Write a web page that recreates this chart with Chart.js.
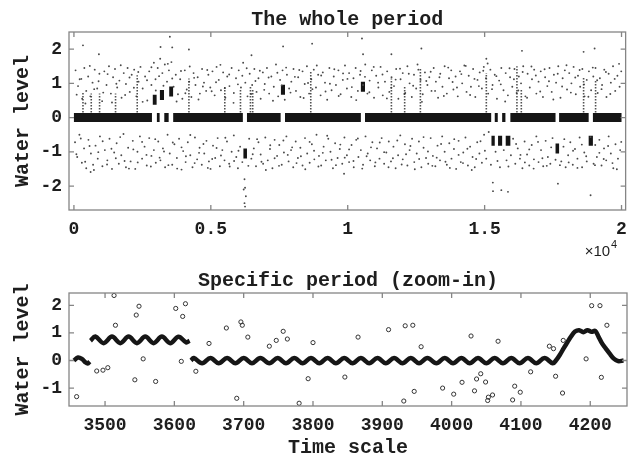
<!DOCTYPE html>
<html>
<head>
<meta charset="utf-8">
<title>Water level</title>
<script src="https://cdn.jsdelivr.net/npm/chart.js@4.4.0/dist/chart.umd.min.js"></script>
<style>
    html, body { margin: 0; padding: 0; background: #fff; overflow: hidden; }
    canvas { position: absolute; left: 0; }
    #whole { top: 0; }
    #zoom { top: 265px; }
</style>
</head>
<body>
<canvas id="whole" width="636" height="265"></canvas>
<canvas id="zoom" width="636" height="195"></canvas>
<script>
// ---- top panel: the whole period ----
const wholeXTicks = [0, 5000, 10000, 15000, 20000];
const wholeXLabels = ['0', '0.5', '1', '1.5', '2'];
const wholeYTicks = [-2, -1, 0, 1, 2];

// dense band around 0, [start, end]
const bandSegments = [[0,2850],[3030,3130],[3300,3460],[3625,6170],[6320,7550],[7710,10480],[10630,15240],
    [15370,15480],[15640,15760],[15940,17590],[17720,18800],[18955,20000]];
// shifted blocks, [start, end, level]
const shiftBlocks = [[2880,3020,0.52],[3140,3290,0.66],[3480,3622,0.76],[6190,6320,-1.05],[7560,7710,0.81],
    [10480,10630,0.9],[15250,15370,-0.68],[15490,15640,-0.68],[15770,15940,-0.68],[17590,17720,-0.9],[18800,18955,-0.68]];
// vertical streaks, [x, top]
const spikes = [[330,0.75],[633,0.7],[937,0.7],[1520,0.7],[2312,1.24],[4200,1.14],[5510,0.9],[6083,0.85],[6447,0.9],
    [6530,0.85],[8650,1.33],[11595,1.14],[12080,0.94],[12654,1.43],[15062,1.3],[16180,1.5],[16340,0.85],[18615,1.19],[19053,1.1]];

const upperDots = [
    [60,1.38],[150,0.92],[210,1.12],[300,0.55],[380,1.45],[450,0.78],[520,1.2],[600,0.62],[680,1.02],[760,1.4],[850,0.85],[930,1.28],
    [1030,0.48],[1110,1.35],[1190,0.95],[1280,1.5],[1350,0.7],[1430,1.18],[1500,1.42],[1580,0.88],[1660,1.08],[1740,0.58],[1820,1.3],[1900,0.98],[1960,1.45],
    [2040,0.75],[2110,1.25],[2200,1.4],[2280,0.62],[2360,1.05],[2430,1.48],[2510,0.85],[2600,1.2],[2680,0.5],[2750,1.35],[2830,0.95],[2920,1.6],[2980,1.12],
    [3060,1.45],[3150,1.72],[3230,1.3],[3320,1.55],[3400,1.05],[3470,1.38],[3560,1.62],[3640,0.9],[3720,1.25],[3800,0.68],[3880,1.12],[3960,0.55],
    [4050,1.38],[4120,0.82],[4210,1.05],[4290,0.6],[4370,1.3],[4440,0.95],[4520,1.18],[4600,0.7],[4680,1.42],[4750,1.02],[4830,0.78],[4910,1.25],[4980,0.88],
    [5060,1.35],[5140,0.65],[5210,1.48],[5290,1.1],[5370,0.8],[5450,1.32],[5530,0.58],[5600,1.2],[5680,0.92],[5760,1.45],[5840,0.72],[5920,1.15],
    [6020,1.38],[6100,0.88],[6180,1.6],[6260,1.02],[6340,0.62],[6420,1.28],[6510,0.95],[6590,1.42],[6670,0.75],[6740,1.15],[6820,0.55],[6900,1.32],[6970,0.98],
    [7050,1.45],[7130,0.7],[7210,1.2],[7300,0.9],[7380,1.55],[7460,0.62],[7530,1.1],[7620,1.38],[7700,0.52],[7780,1.25],[7860,0.85],[7940,1.05],
    [8020,1.42],[8110,0.78],[8190,1.18],[8270,0.6],[8350,1.35],[8430,0.98],[8510,1.5],[8590,0.7],[8670,1.12],[8760,1.4],[8840,0.88],[8920,1.25],
    [9010,0.65],[9090,1.32],[9170,1.02],[9250,0.52],[9330,1.45],[9410,0.8],[9490,1.2],[9570,0.95],[9660,1.38],[9740,0.68],[9820,1.1],[9900,1.52],[9970,0.85],
    [10050,1.3],[10130,0.6],[10210,1.15],[10290,1.45],[10370,0.78],[10450,1.25],[10560,0.95],[10640,1.55],[10720,0.7],[10800,1.08],[10880,1.38],[10960,0.58],
    [11040,1.22],[11120,0.88],[11200,1.48],[11280,0.65],[11360,1.05],[11440,1.35],[11520,0.75],[11600,1.18],[11690,0.92],[11770,1.42],[11850,0.55],[11930,1.12],
    [12010,1.3],[12100,0.72],[12180,1.5],[12260,1.0],[12340,0.6],[12420,1.25],[12500,0.85],[12580,1.4],[12660,1.1],[12740,0.68],[12820,1.32],[12910,0.95],[12980,1.18],
    [13060,0.78],[13140,1.45],[13220,1.05],[13300,0.58],[13380,1.28],[13460,0.9],[13540,1.5],[13620,0.7],[13700,1.15],[13780,1.38],[13860,0.82],[13940,1.2],
    [14020,0.62],[14100,1.35],[14180,1.0],[14260,1.52],[14340,0.75],[14420,1.22],[14500,0.9],[14580,1.42],[14660,0.6],[14740,1.1],[14820,1.32],[14900,0.85],[14970,1.48],
    [15050,1.15],[15130,0.7],[15210,1.4],[15290,0.95],[15370,1.25],[15450,0.55],[15530,1.08],[15610,1.45],[15690,0.8],[15770,1.3],[15850,0.65],[15930,1.18],
    [16010,0.9],[16090,1.42],[16170,0.72],[16250,1.2],[16330,1.0],[16410,1.5],[16490,0.62],[16570,1.28],[16650,0.88],[16730,1.12],[16810,1.4],[16890,0.7],[16970,1.05],
    [17050,1.35],[17130,0.6],[17210,1.18],[17290,0.92],[17370,1.45],[17450,0.75],[17530,1.25],[17610,1.02],[17690,1.5],[17770,0.58],[17850,1.15],[17930,1.38],
    [18010,0.82],[18090,1.3],[18170,1.0],[18250,1.48],[18330,0.68],[18410,1.22],[18490,0.9],[18570,1.42],[18650,0.62],[18730,1.1],[18810,1.35],[18890,0.8],[18970,1.2],
    [19050,1.45],[19130,0.72],[19210,1.15],[19290,0.95],[19370,1.4],[19450,0.6],[19530,1.28],[19610,1.02],[19690,1.5],[19770,0.78],[19850,1.22],[19930,0.9],[19990,1.35]
];

const upperDotsExtra = [
    [100,0.67],[270,1.13],[420,0.41],[580,1.51],[740,0.83],[900,1.06],[1070,0.73],[1230,1.27],[1390,0.44],[1550,0.99],[1710,1.53],[1870,0.66],
    [2030,1.17],[2190,0.87],[2350,1.33],[2510,0.46],[2670,1.09],[2830,1.47],[2990,0.79],[3110,1.21],[3270,0.93],[3430,1.57],[3590,1.14],[3750,0.47],
    [3910,1.36],[4070,0.71],[4230,1.49],[4390,1.16],[4550,0.53],[4710,0.91],[4870,1.39],[5030,0.77],[5190,1.03],[5350,1.54],[5510,0.86],[5670,1.26],
    [5830,0.43],[5990,0.97],[6150,1.22],[6310,1.44],[6470,0.69],[6630,1.07],[6790,1.37],[6950,0.81],[7110,1.17],[7270,0.49],[7430,1.31],[7590,0.94],
    [7750,1.46],[7910,0.73],[8070,1.19],[8230,1.39],[8390,0.57],[8550,1.01],[8710,0.83],[8870,1.52],[9030,1.23],[9190,0.76],[9350,0.99],[9510,1.41],
    [9670,0.63],[9830,1.29],[9990,1.13],[10150,0.89],[10310,0.51],[10470,1.36],[10630,1.19],[10790,0.74],[10950,1.48],[11110,1.02],[11270,1.26],[11430,0.56],
    [11590,0.87],[11750,1.11],[11910,1.43],[12070,0.69],[12230,1.28],[12390,0.93],[12550,1.55],[12710,0.46],[12870,1.07],[13030,1.34],[13190,0.78],[13350,1.18],
    [13510,0.63],[13670,1.46],[13830,1.04],[13990,0.88],[14150,1.27],[14310,1.51],[14470,0.66],[14630,1.13],[14790,0.92],[14950,1.37],[15110,1.58],[15270,0.83],
    [15430,1.21],[15590,0.97],[15750,0.47],[15910,1.44],[16070,1.12],[16230,0.79],[16390,1.33],[16550,0.58],[16710,1.49],[16870,1.23],[17030,0.76],[17190,1.41],
    [17350,1.06],[17510,0.53],[17670,1.28],[17830,0.91],[17990,1.53],[18150,0.73],[18310,1.17],[18470,1.39],[18630,0.97],[18790,0.61],[18950,1.46],[19110,1.09],
    [19270,0.83],[19430,1.33],[19590,0.69],[19750,1.13],[19910,1.57]
];

const lowerDots = [
    [40,-0.72],[120,-1.15],[200,-0.5],[290,-1.32],[370,-0.9],[450,-1.48],[530,-0.65],[620,-1.05],[700,-1.38],[790,-0.82],[870,-1.2],[950,-0.55],
    [1040,-1.42],[1130,-0.95],[1220,-1.25],[1300,-0.62],[1390,-1.5],[1470,-1.02],[1560,-0.75],[1640,-1.35],[1730,-1.1],[1810,-0.48],[1900,-1.45],[1980,-0.88],
    [2070,-1.28],[2150,-0.68],[2240,-1.5],[2320,-1.0],[2410,-0.55],[2490,-1.2],[2580,-0.85],[2660,-1.4],[2750,-0.6],[2830,-1.12],[2920,-0.95],[2990,-1.32],
    [3080,-0.7],[3160,-1.25],[3250,-0.9],[3330,-1.45],[3420,-0.5],[3500,-1.05],[3590,-1.38],[3670,-0.78],[3760,-1.18],[3840,-0.62],[3930,-1.52],[3990,-0.98],
    [4080,-1.3],[4160,-0.72],[4250,-1.1],[4330,-1.45],[4420,-0.58],[4500,-1.22],[4590,-0.88],[4670,-1.38],[4760,-1.05],[4840,-0.68],[4930,-1.28],[4990,-1.5],
    [5080,-0.82],[5160,-1.18],[5250,-0.6],[5330,-1.42],[5420,-0.95],[5500,-1.25],[5590,-0.7],[5670,-1.35],[5760,-1.0],[5840,-0.52],[5930,-1.15],[5990,-1.48],
    [6070,-0.85],[6150,-1.3],[6400,-0.62],[6480,-1.2],[6570,-0.9],[6650,-1.42],[6740,-0.72],[6820,-1.08],[6910,-1.35],[6990,-0.58],
    [7080,-1.25],[7160,-0.92],[7250,-1.48],[7330,-0.65],[7420,-1.12],[7500,-0.8],[7590,-1.38],[7670,-1.02],[7760,-0.55],[7840,-1.28],[7930,-0.95],
    [8010,-1.45],[8100,-0.7],[8180,-1.18],[8270,-0.88],[8350,-1.4],[8440,-0.6],[8520,-1.05],[8610,-1.32],[8690,-0.78],[8780,-1.22],[8860,-0.5],[8950,-1.12],
    [9030,-1.4],[9120,-0.85],[9200,-1.25],[9290,-0.62],[9370,-1.0],[9460,-1.48],[9540,-0.75],[9630,-1.18],[9710,-0.92],[9800,-1.35],[9880,-0.58],[9970,-1.1],
    [10050,-1.3],[10140,-0.8],[10220,-1.45],[10310,-0.65],[10390,-1.15],[10480,-0.95],[10560,-1.38],[10650,-0.55],[10730,-1.05],[10820,-1.25],[10900,-0.72],[10990,-1.42],
    [11070,-0.9],[11160,-1.2],[11240,-0.6],[11330,-1.35],[11410,-1.02],[11500,-0.7],[11580,-1.28],[11670,-0.85],[11750,-1.48],[11840,-1.1],[11920,-0.52],
    [12010,-1.22],[12090,-0.78],[12180,-1.4],[12260,-0.95],[12350,-0.62],[12430,-1.3],[12520,-1.05],[12600,-0.7],[12690,-1.45],[12770,-0.88],[12860,-1.18],[12940,-1.35],
    [13030,-0.6],[13110,-1.12],[13200,-1.42],[13280,-0.82],[13370,-1.25],[13450,-0.55],[13540,-1.0],[13620,-1.38],[13710,-0.75],[13790,-1.2],[13880,-0.92],[13960,-1.5],
    [14050,-0.68],[14130,-1.3],[14220,-1.02],[14300,-0.58],[14390,-1.4],[14470,-0.85],[14560,-1.15],[14640,-1.45],[14730,-0.72],[14810,-1.05],[14900,-1.32],[14980,-0.5],
    [15060,-1.2],[15150,-0.42],[15230,-1.38],[15400,-1.0],[15560,-1.45],[15700,-0.95],[15800,-1.25],[15960,-1.1],
    [16040,-0.62],[16120,-1.35],[16210,-0.9],[16290,-1.2],[16380,-1.48],[16460,-0.7],[16550,-1.08],[16630,-1.4],[16720,-0.8],[16800,-1.22],[16890,-0.55],[16970,-1.3],
    [17060,-0.95],[17140,-1.42],[17230,-0.68],[17310,-1.15],[17400,-1.35],[17480,-0.6],[17800,-1.28],[17880,-0.85],[17960,-1.45],
    [18050,-1.1],[18130,-0.72],[18220,-1.38],[18300,-0.92],[18390,-1.2],[18470,-0.58],[18560,-1.45],[18640,-1.02],[18730,-1.28],[18980,-1.35],[19040,-0.8],
    [19100,-1.15],[19190,-0.65],[19270,-1.4],[19360,-0.9],[19440,-1.25],[19530,-0.55],[19610,-1.05],[19700,-1.48],[19780,-0.78],[19870,-1.2],[19950,-0.95]
];

const lowerDotsExtra = [
    [90,-1.07],[250,-0.61],[410,-1.29],[570,-0.83],[730,-1.53],[890,-1.01],[1050,-0.69],[1210,-1.37],[1370,-0.91],[1530,-1.19],[1690,-0.57],[1850,-1.27],
    [2010,-1.49],[2170,-0.93],[2330,-1.31],[2490,-0.71],[2650,-1.09],[2810,-1.43],[2970,-0.63],[3130,-1.17],[3290,-0.99],[3450,-1.39],[3610,-0.73],[3770,-1.49],
    [3930,-0.87],[4090,-1.13],[4250,-0.51],[4410,-1.33],[4570,-1.03],[4730,-0.77],[4890,-1.47],[5050,-1.21],[5210,-0.89],[5370,-1.11],[5530,-0.59],[5690,-1.43],
    [5850,-1.27],[6010,-0.97],[6370,-1.41],[6530,-1.07],[6690,-0.63],[6850,-1.29],[7010,-1.53],[7170,-0.81],[7330,-1.19],[7490,-1.41],[7650,-0.67],[7810,-1.09],
    [7970,-0.87],[8130,-1.33],[8290,-1.13],[8450,-1.51],[8610,-0.71],[8770,-0.97],[8930,-1.43],[9090,-1.03],[9250,-0.53],[9410,-1.23],[9570,-1.39],[9730,-0.79],
    [9890,-1.17],[10050,-0.93],[10210,-1.27],[10370,-0.61],[10530,-1.49],[10690,-1.13],[10850,-0.87],[11010,-1.31],[11170,-0.73],[11330,-1.01],[11490,-1.45],[11650,-1.19],
    [11810,-0.67],[11970,-1.37],[12130,-1.07],[12290,-0.83],[12450,-1.51],[12610,-1.21],[12770,-0.57],[12930,-0.99],[13090,-1.41],[13250,-1.17],[13410,-0.77],[13570,-1.29],
    [13730,-1.47],[13890,-0.63],[14050,-1.09],[14210,-1.33],[14370,-0.91],[14530,-1.53],[14690,-1.21],[14850,-0.69],[15010,-0.97],[15470,-1.27],[15870,-1.43],[16150,-0.77],
    [16310,-1.09],[16470,-1.31],[16630,-0.93],[16790,-1.49],[16950,-0.71],[17110,-1.19],[17270,-1.41],[17430,-0.87],[17590,-1.23],[17750,-1.39],[17910,-0.63],[18070,-1.31],
    [18230,-0.97],[18390,-1.47],[18550,-0.79],[18710,-1.13],[18870,-0.57],[19030,-1.39],[19190,-1.03],[19350,-1.21],[19510,-0.83],[19670,-1.33],[19830,-1.51],[19990,-0.71]
];

const outlierDots = [
    [330,2.11],[912,1.85],[3163,2.06],[3504,2.36],[3590,2.05],[4200,1.99],[6485,1.82],[7640,2.08],[8700,2.16],
    [10520,2.31],[10560,1.85],[11595,1.85],[12690,2.02],[15062,1.72],[16364,1.95],[18615,1.92],[19017,2.02],
    [610,-1.59],[9866,-1.64],[6230,-1.8],[6250,-2.05],[6200,-2.1],[6280,-2.3],[6230,-2.5],[6250,-2.6],
    [15306,-2.15],[15610,-2.12],[15853,-2.17],[15300,-1.9],[17677,-1.93],[18870,-2.27]
];

// ---- bottom panel: specific period (zoom-in) ----
const zoomXTicks = [3500, 3600, 3700, 3800, 3900, 4000, 4100, 4200];
const zoomYTicks = [-1, 0, 1, 2];

const waveStart = [[3455,0],[3461,0.11],[3467,0.05],[3471,-0.05],[3475,-0.11],[3478,-0.04]];
const waveRaised = [[3479,0.72],[3486,0.87],[3498,0.63],[3510,0.87],[3522,0.63],[3534,0.87],[3546,0.63],[3558,0.87],
    [3570,0.63],[3582,0.87],[3594,0.63],[3606,0.86],[3617,0.66],[3622,0.72]];
const waveMain = [[3624,0],[3628,0.09],[3640,-0.1],[3652,0.09],[3664,-0.1],[3676,0.09],[3688,-0.1],[3700,0.09],[3712,-0.1],
    [3724,0.09],[3737,-0.1],[3749,0.09],[3761,-0.1],[3773,0.09],[3785,-0.1],[3797,0.09],[3809,-0.1],[3821,0.09],[3833,-0.1],
    [3845,0.09],[3857,-0.1],[3869,0.09],[3881,-0.1],[3893,0.09],[3905,-0.1],[3917,0.09],[3929,-0.1],[3941,0.09],[3953,-0.1],
    [3965,0.09],[3978,-0.1],[3990,0.09],[4002,-0.1],[4014,0.09],[4026,-0.1],[4038,0.09],[4050,-0.1],[4062,0.09],[4074,-0.1],
    [4086,0.09],[4098,-0.1],[4110,0.09],[4122,-0.1],[4134,0.09],[4146,-0.1],[4151,0.02],[4156,0.2],[4162,0.46],[4167,0.66],
    [4172,0.86],[4178,1.05],[4184,1.1],[4190,1.03],[4196,1.1],[4202,1.04],[4207,1.08],[4212,0.86],[4217,0.62],[4222,0.45],
    [4228,0.25],[4234,0.07],[4240,-0.02],[4248,0]];

const zoomDots = [
    [3459,-1.31],[3488,-0.38],[3497,-0.35],[3504,-0.26],[3513,2.36],[3515,1.28],[3543,-0.7],[3545,1.65],[3549,1.97],[3555,0.06],
    [3573,-0.76],[3602,1.89],[3610,-0.03],[3612,1.6],[3616,2.06],[3631,-0.39],[3650,0.62],[3675,1.18],[3690,-1.37],[3696,1.4],
    [3698,1.28],[3706,0.85],[3737,0.52],[3747,0.73],[3757,1.06],[3763,0.78],[3780,-1.55],[3793,-0.66],[3800,0.65],[3846,-0.6],
    [3865,0.85],[3909,1.12],[3931,-1.47],[3933,1.26],[3944,1.28],[3946,-1.12],[3956,0.5],[3987,-1.0],[4003,-1.22],[4015,-0.79],
    [4028,0.89],[4033,-1.1],[4036,-0.67],[4042,-0.48],[4049,-0.78],[4052,-1.45],[4053,-1.33],[4059,-1.25],[4067,0.7],[4088,-1.43],
    [4091,-0.93],[4099,-1.15],[4114,-0.41],[4141,0.52],[4147,0.43],[4150,-0.57],[4160,-1.18],[4161,0.73],[4194,0.06],[4202,1.99],
    [4214,1.99],[4216,-0.61],[4224,1.28]
];

// ---- helpers ----
const MONO = '"Liberation Mono", "DejaVu Sans Mono", monospace';
const TEXT = '#1e1e1e';
const FRAME = '#858585';

const toPoints = list => list.map(p => ({ x: p[0], y: p[1] }));

// several pieces in one dataset, split by null points
function joinPieces(pieces) {
    const out = [];
    pieces.forEach((piece, i) => {
        if (i > 0) out.push({ x: piece[0].x, y: null });
        out.push(...piece);
    });
    return out;
}

const framePlugin = {
    id: 'frame',
    afterDatasetsDraw(chart) {
        const { ctx, chartArea: a, scales: { x, y } } = chart;
        ctx.save();
        ctx.strokeStyle = FRAME;
        ctx.lineWidth = 1.3;
        ctx.beginPath();
        x.ticks.forEach(t => {
            const px = x.getPixelForValue(t.value);
            ctx.moveTo(px, a.bottom); ctx.lineTo(px, a.bottom - 5);
            ctx.moveTo(px, a.top); ctx.lineTo(px, a.top + 5);
        });
        y.ticks.forEach(t => {
            const py = y.getPixelForValue(t.value);
            ctx.moveTo(a.left, py); ctx.lineTo(a.left + 5, py);
            ctx.moveTo(a.right, py); ctx.lineTo(a.right - 5, py);
        });
        ctx.stroke();
        ctx.strokeRect(a.left, a.top, a.width, a.height);
        ctx.restore();
    }
};

// the x10^4 exponent label under the top panel
const exponentPlugin = {
    id: 'exponent',
    afterDraw(chart) {
        const { ctx, chartArea: a } = chart;
        ctx.save();
        ctx.fillStyle = TEXT;
        ctx.textBaseline = 'alphabetic';
        ctx.font = '15px "Liberation Sans", Arial, sans-serif';
        const base = '\u00d710';
        ctx.fillText(base, a.right - 41, a.bottom + 46);
        const w = ctx.measureText(base).width;
        ctx.font = '11px "Liberation Sans", Arial, sans-serif';
        ctx.fillText('4', a.right - 41 + w + 1, a.bottom + 38);
        ctx.restore();
    }
};

function axisX(min, max, tickValues, labels, height, title) {
    return {
        type: 'linear',
        min: min,
        max: max,
        afterBuildTicks: s => { s.ticks = tickValues.map(v => ({ value: v })); },
        afterFit: s => { s.height = height; },
        grid: { display: false, drawTicks: false },
        border: { display: false },
        ticks: {
            autoSkip: false,
            maxRotation: 0,
            padding: 9,
            color: TEXT,
            font: { family: MONO, size: 18, weight: 'bold' },
            callback: (v, i) => labels ? labels[i] : String(v)
        },
        title: {
            display: !!title,
            text: title || '',
            color: TEXT,
            font: { family: MONO, size: 20, weight: 'bold' },
            padding: { top: 0, bottom: 0 }
        }
    };
}

function axisY(min, max, tickValues) {
    return {
        type: 'linear',
        min: min,
        max: max,
        afterBuildTicks: s => { s.ticks = tickValues.map(v => ({ value: v })); },
        afterFit: s => { s.width = 69; },
        grid: { display: false, drawTicks: false },
        border: { display: false },
        ticks: {
            padding: 7,
            color: TEXT,
            font: { family: MONO, size: 18, weight: 'bold' }
        },
        title: {
            display: true,
            text: 'Water level',
            color: TEXT,
            font: { family: MONO, size: 20, weight: 'bold' },
            padding: { top: 11, bottom: 0 }
        }
    };
}

function titleOptions(text, top) {
    return {
        display: true,
        text: text,
        fullSize: false,
        color: TEXT,
        font: { family: MONO, size: 20, weight: 'bold' },
        padding: { top: top, bottom: 0 }
    };
}

// ---- top chart ----
const bandPieces = bandSegments.map(s => [{ x: s[0], y: 0 }, { x: s[1], y: 0 }]);
const blockPieces = shiftBlocks.map(s => [{ x: s[0], y: s[2] }, { x: s[1], y: s[2] }]);
const spikePieces = spikes.map(s => [{ x: s[0], y: 0.15 }, { x: s[0], y: s[1] }]);
const allDots = upperDots.concat(upperDotsExtra, lowerDots, lowerDotsExtra, outlierDots);

new Chart(document.getElementById('whole'), {
    type: 'scatter',
    data: {
        datasets: [
            {
                data: joinPieces(spikePieces),
                showLine: true,
                pointRadius: 0,
                borderColor: 'rgba(50,50,50,0.85)',
                borderWidth: 1.6,
                borderDash: [1.5, 1.5]
            },
            {
                data: toPoints(allDots),
                pointRadius: 0.95,
                pointBorderWidth: 0,
                backgroundColor: '#4a4a4a'
            },
            {
                data: joinPieces(bandPieces),
                showLine: true,
                pointRadius: 0,
                borderColor: '#151515',
                borderWidth: 9,
                borderCapStyle: 'butt'
            },
            {
                data: joinPieces(blockPieces),
                showLine: true,
                pointRadius: 0,
                borderColor: '#151515',
                borderWidth: 10,
                borderCapStyle: 'butt'
            }
        ]
    },
    options: {
        responsive: false,
        animation: false,
        layout: { padding: { left: 0, right: 10, top: 0, bottom: 0 } },
        plugins: {
            legend: { display: false },
            tooltip: { enabled: false },
            title: titleOptions('The whole period', 8)
        },
        scales: {
            x: axisX(-180, 20150, wholeXTicks, wholeXLabels, 55, null),
            y: axisY(-2.7, 2.5, wholeYTicks)
        }
    },
    plugins: [framePlugin, exponentPlugin]
});

// ---- bottom chart ----
new Chart(document.getElementById('zoom'), {
    type: 'scatter',
    data: {
        datasets: [
            {
                data: joinPieces([toPoints(waveStart), toPoints(waveRaised), toPoints(waveMain)]),
                showLine: true,
                pointRadius: 0,
                borderColor: '#161616',
                borderWidth: 4.5,
                tension: 0.35
            },
            {
                data: toPoints(zoomDots),
                pointRadius: 2.1,
                pointBorderWidth: 1,
                borderColor: '#333',
                backgroundColor: 'rgba(255,255,255,0)'
            }
        ]
    },
    options: {
        responsive: false,
        animation: false,
        layout: { padding: { left: 0, right: 9, top: 0, bottom: 0 } },
        plugins: {
            legend: { display: false },
            tooltip: { enabled: false },
            title: titleOptions('Specific period (zoom-in)', 4)
        },
        scales: {
            x: axisX(3448, 4253, zoomXTicks, null, 54, 'Time scale'),
            y: axisY(-1.65, 2.45, zoomYTicks)
        }
    },
    plugins: [framePlugin]
});
</script>
</body>
</html>
